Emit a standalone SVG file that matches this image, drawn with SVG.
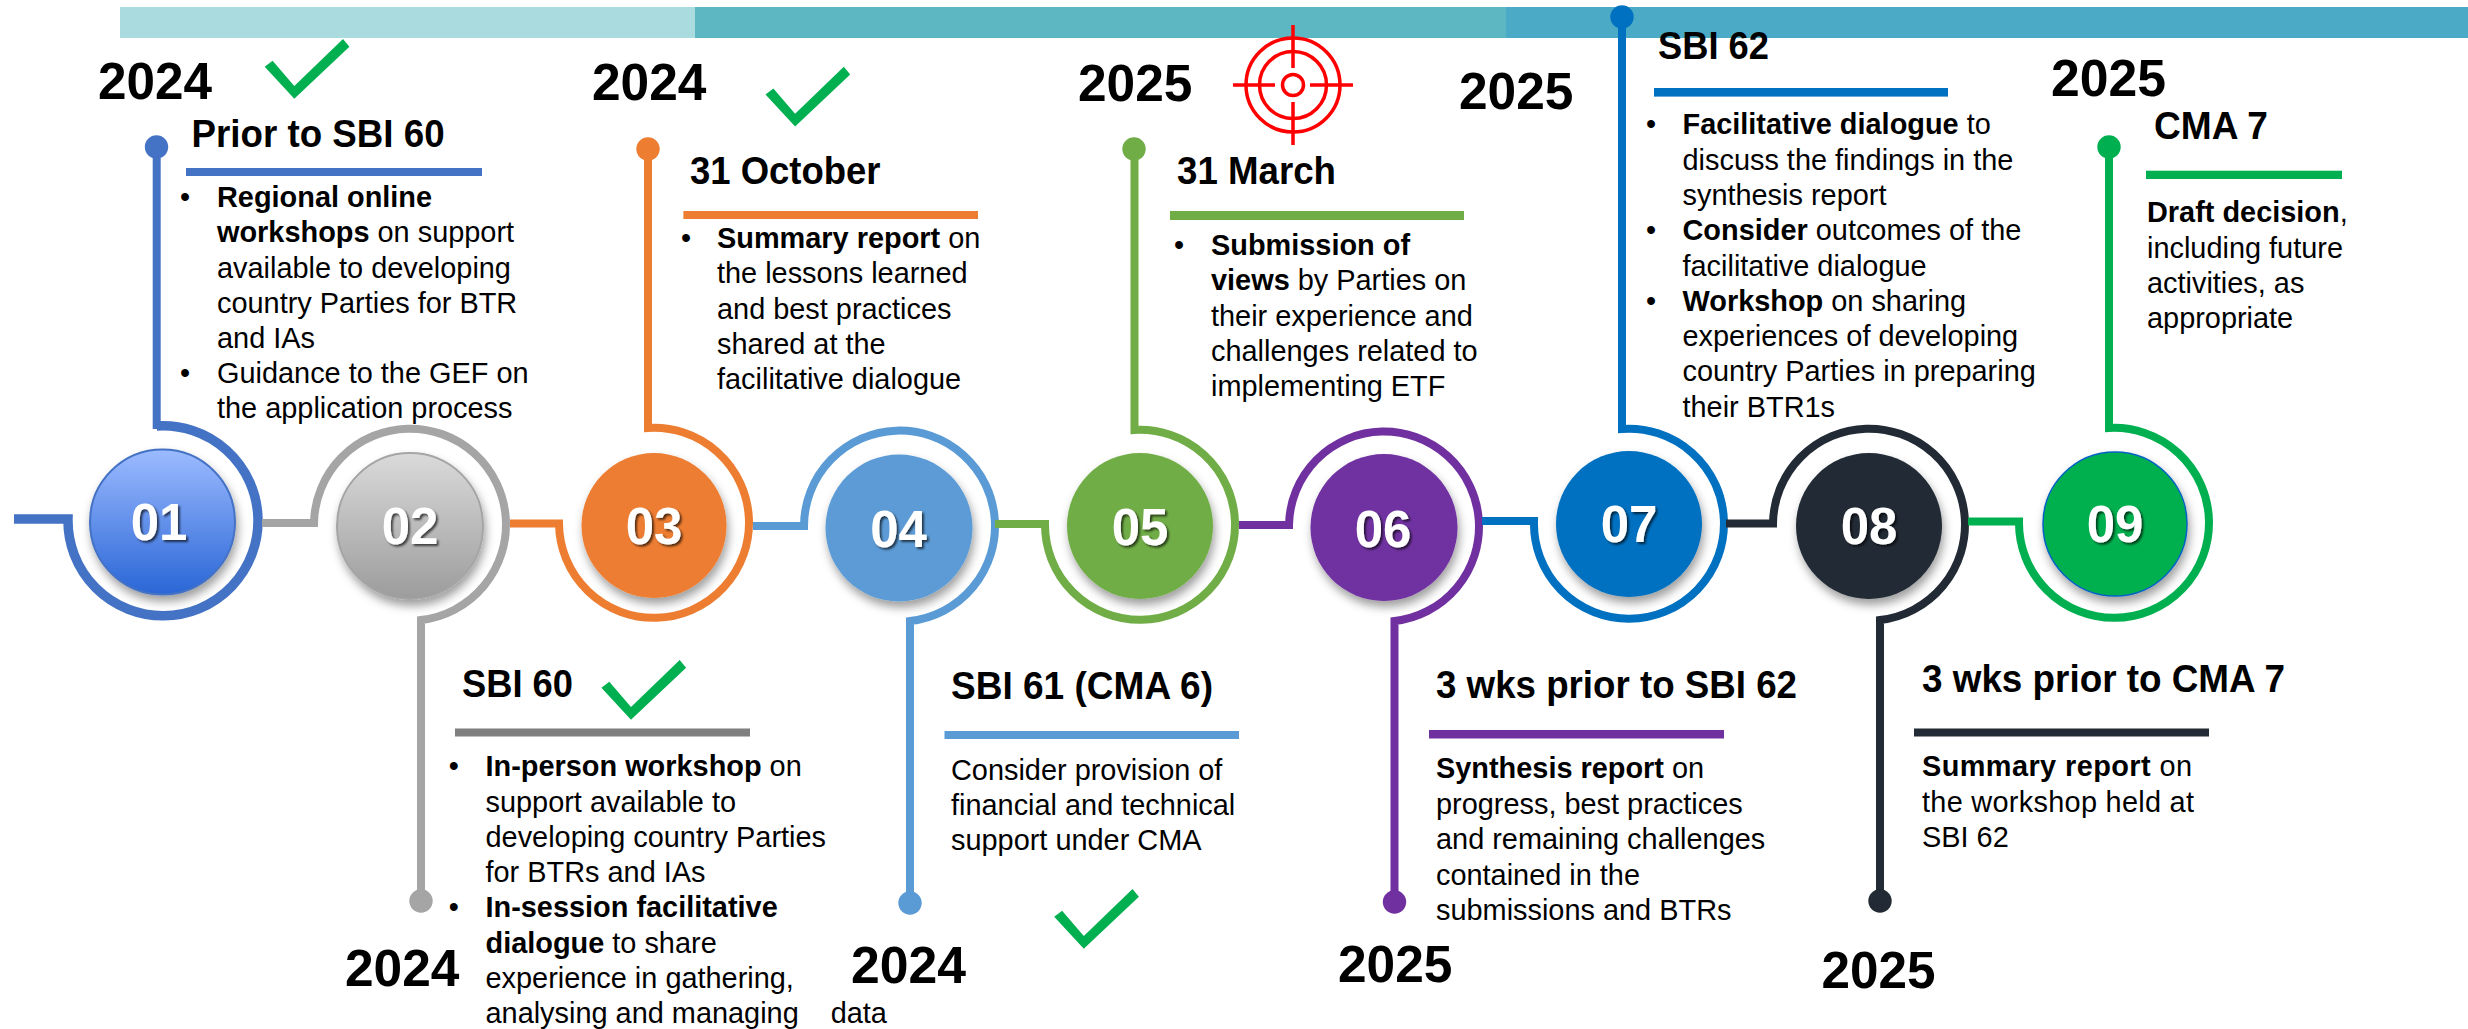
<svg xmlns="http://www.w3.org/2000/svg" width="2468" height="1029" viewBox="0 0 2468 1029">
<style>
text{font-family:"Liberation Sans",Arial,sans-serif;fill:#000}
.b{font-size:28.9px}
.b tspan,.bold{font-weight:700}
.h{font-weight:700;font-size:38px}
.y{font-weight:700;font-size:51px}
.n{font-weight:700;font-size:51px;fill:#fff;text-anchor:middle;filter:url(#ts)}
.c{filter:url(#ds)}
.l{fill:none;stroke-width:8;stroke-linejoin:miter}
.chk{fill:#00B050}
.t{fill:none;stroke:#FF0000;stroke-width:3.5}
</style>
<defs>
<linearGradient id="g1" x1="0" y1="0" x2="0" y2="1"><stop offset="0" stop-color="#9CBBFF"/><stop offset="1" stop-color="#2A66D6"/></linearGradient>
<linearGradient id="g2" x1="0" y1="0" x2="0" y2="1"><stop offset="0" stop-color="#DADADA"/><stop offset="1" stop-color="#9C9C9C"/></linearGradient>
<filter id="ds" x="-20%" y="-20%" width="140%" height="150%"><feDropShadow dx="2" dy="6" stdDeviation="5" flood-color="#000" flood-opacity=".38"/></filter>
<filter id="ts" x="-20%" y="-20%" width="140%" height="140%"><feDropShadow dx="2" dy="2" stdDeviation="1" flood-color="#000" flood-opacity=".65"/></filter>
<polygon id="check" points="264.7,66.7 272.6,60.7 294.3,86 343,39 349.4,46.7 294.3,98.7"/>
</defs>

<g id="timeline-bar">
<rect x="120" y="7" width="575" height="31" fill="#AADBDE"/>
<rect x="695" y="7" width="811" height="31" fill="#5DB7C3"/>
<rect x="1506" y="7" width="962" height="31" fill="#4BAAC5"/>
</g>

<g id="connectors">
<path class="l" stroke="#4472C4" stroke-width="9.5" style="stroke-width:9.5" d="M14 519H68A95 95 0 1 0 156.7 426"/>
<path class="l" stroke="#4472C4" d="M156.7 429V147"/>
<path class="l" stroke="#A5A5A5" d="M262 523H314A96 96 0 1 1 421 620V901"/>
<path class="l" stroke="#ED7D31" d="M510 523.5H559A95 95 0 1 0 648 428V149"/>
<path class="l" stroke="#5B9BD5" d="M753 526H804A95.5 95.5 0 1 1 910 621V903"/>
<path class="l" stroke="#70AD47" d="M995 524H1045A95 95 0 1 0 1134.5 430V149"/>
<path class="l" stroke="#7030A0" d="M1239 525H1289A95 95 0 1 1 1394.5 621V902"/>
<path class="l" stroke="#0070C0" d="M1482 521H1534A95 95 0 1 0 1622 429V17"/>
<path class="l" stroke="#222B35" d="M1726 523.5H1773A96 96 0 1 1 1880 620V901"/>
<path class="l" stroke="#00B050" d="M1968 521.5H2019A95 95 0 1 0 2109 428V147"/>
<circle cx="156.5" cy="147" r="11.7" fill="#4472C4"/>
<circle cx="421" cy="901" r="11.7" fill="#A5A5A5"/>
<circle cx="648" cy="149" r="11.7" fill="#ED7D31"/>
<circle cx="910" cy="903" r="11.7" fill="#5B9BD5"/>
<circle cx="1134" cy="149" r="11.7" fill="#70AD47"/>
<circle cx="1394.5" cy="902" r="11.7" fill="#7030A0"/>
<circle cx="1622" cy="17" r="11.7" fill="#0070C0"/>
<circle cx="1880" cy="901" r="11.7" fill="#222B35"/>
<circle cx="2109" cy="147" r="11.7" fill="#00B050"/>
</g>

<g id="node-01">
<circle class="c" cx="162.5" cy="522" r="72.5" fill="url(#g1)" stroke="#4472C4" stroke-width="2"/>
<text class="n" x="159" y="540">01</text>
<text class="y" x="98" y="99" textLength="114" lengthAdjust="spacingAndGlyphs">2024</text>
<use href="#check" class="chk"/>
<text class="h" x="191.6" y="146.7" textLength="253" lengthAdjust="spacingAndGlyphs">Prior to SBI 60</text>
<rect x="186" y="168" width="296" height="8" fill="#4472C4"/>
<text class="b" x="185" y="207" text-anchor="middle">•</text>
<text class="b" x="217" y="207"><tspan>Regional online</tspan></text>
<text class="b" x="217" y="242"><tspan>workshops</tspan> on support</text>
<text class="b" x="217" y="277.5">available to developing</text>
<text class="b" x="217" y="312.5">country Parties for BTR</text>
<text class="b" x="217" y="348">and IAs</text>
<text class="b" x="185" y="383" text-anchor="middle">•</text>
<text class="b" x="217" y="383">Guidance to the GEF on</text>
<text class="b" x="217" y="418">the application process</text>
</g>

<g id="node-02">
<circle class="c" cx="410" cy="526" r="73" fill="url(#g2)" stroke="#A5A5A5" stroke-width="2"/>
<text class="n" x="410" y="544">02</text>
<text class="y" x="345" y="986" textLength="114.5" lengthAdjust="spacingAndGlyphs">2024</text>
<use href="#check" class="chk" transform="translate(336.7 621)"/>
<text class="h" x="462" y="697" textLength="111" lengthAdjust="spacingAndGlyphs">SBI 60</text>
<rect x="455" y="728.5" width="295" height="8" fill="#7F7F7F"/>
<text class="b" x="453.7" y="776" text-anchor="middle">•</text>
<text class="b" x="485.5" y="776"><tspan>In-person workshop</tspan> on</text>
<text class="b" x="485.5" y="811.6">support available to</text>
<text class="b" x="485.5" y="846.6">developing country Parties</text>
<text class="b" x="485.5" y="882">for BTRs and IAs</text>
<text class="b" x="453.7" y="917" text-anchor="middle">•</text>
<text class="b" x="485.5" y="917"><tspan>In-session facilitative</tspan></text>
<text class="b" x="485.5" y="952.6"><tspan>dialogue</tspan> to share</text>
<text class="b" x="485.5" y="988">experience in gathering,</text>
<text class="b" x="485.5" y="1023">analysing and managing</text>
<text class="b" x="830.7" y="1023">data</text>
</g>

<g id="node-03">
<circle class="c" cx="654" cy="525.5" r="72.5" fill="#ED7D31"/>
<text class="n" x="654" y="544">03</text>
<text class="y" x="592" y="100" textLength="114.5" lengthAdjust="spacingAndGlyphs">2024</text>
<use href="#check" class="chk" transform="translate(500.8 27.7)"/>
<text class="h" x="690" y="183.5" textLength="190.5" lengthAdjust="spacingAndGlyphs">31 October</text>
<rect x="683.4" y="211" width="294.6" height="8" fill="#ED7D31"/>
<text class="b" x="686" y="248" text-anchor="middle">•</text>
<text class="b" x="717" y="248"><tspan>Summary report</tspan> on</text>
<text class="b" x="717" y="283">the lessons learned</text>
<text class="b" x="717" y="318.5">and best practices</text>
<text class="b" x="717" y="354">shared at the</text>
<text class="b" x="717" y="389">facilitative dialogue</text>
</g>

<g id="node-04">
<circle class="c" cx="899" cy="528" r="73.5" fill="#5B9BD5"/>
<text class="n" x="898.5" y="546.6">04</text>
<text class="y" x="851" y="983" textLength="115" lengthAdjust="spacingAndGlyphs">2024</text>
<use href="#check" class="chk" transform="translate(789.5 850)"/>
<text class="h" x="951" y="699" textLength="262" lengthAdjust="spacingAndGlyphs">SBI 61 (CMA 6)</text>
<rect x="944.5" y="731" width="294.5" height="8" fill="#5B9BD5"/>
<text class="b" x="951" y="779.5">Consider provision of</text>
<text class="b" x="951" y="814.5">financial and technical</text>
<text class="b" x="951" y="850">support under CMA</text>
</g>

<g id="node-05">
<circle class="c" cx="1140" cy="526" r="73" fill="#70AD47"/>
<text class="n" x="1140" y="544.6">05</text>
<text class="y" x="1078" y="101" textLength="114.5" lengthAdjust="spacingAndGlyphs">2025</text>
<g id="target">
<circle class="t" cx="1293" cy="85" r="47"/>
<circle class="t" cx="1293" cy="85" r="33.5"/>
<circle class="t" cx="1293" cy="85" r="10.5"/>
<path class="t" d="M1233 85H1275M1310 85H1353M1293 25V68M1293 102V145"/>
</g>
<text class="h" x="1177" y="184" textLength="159" lengthAdjust="spacingAndGlyphs">31 March</text>
<rect x="1170" y="211" width="294" height="9" fill="#70AD47"/>
<text class="b" x="1179" y="255" text-anchor="middle">•</text>
<text class="b" x="1211" y="255"><tspan>Submission of</tspan></text>
<text class="b" x="1211" y="290"><tspan>views</tspan> by Parties on</text>
<text class="b" x="1211" y="325.5">their experience and</text>
<text class="b" x="1211" y="361">challenges related to</text>
<text class="b" x="1211" y="396">implementing ETF</text>
</g>

<g id="node-06">
<circle class="c" cx="1384" cy="527.5" r="73.5" fill="#7030A0"/>
<text class="n" x="1383" y="546.6">06</text>
<text class="y" x="1338" y="982" textLength="114.5" lengthAdjust="spacingAndGlyphs">2025</text>
<text class="y" x="1459" y="109" textLength="114.5" lengthAdjust="spacingAndGlyphs">2025</text>
<text class="h" x="1436" y="698.4" textLength="361" lengthAdjust="spacingAndGlyphs">3 wks prior to SBI 62</text>
<rect x="1429" y="730" width="295" height="8.5" fill="#7030A0"/>
<text class="b" x="1436" y="778"><tspan>Synthesis report</tspan> on</text>
<text class="b" x="1436" y="813.7">progress, best practices</text>
<text class="b" x="1436" y="849">and remaining challenges</text>
<text class="b" x="1436" y="885">contained in the</text>
<text class="b" x="1436" y="920">submissions and BTRs</text>
</g>

<g id="node-07">
<circle class="c" cx="1629" cy="524" r="73" fill="#0070C0"/>
<text class="n" x="1629" y="541.8">07</text>
<text class="h" x="1658" y="59" textLength="111" lengthAdjust="spacingAndGlyphs">SBI 62</text>
<rect x="1654" y="88" width="294" height="8.6" fill="#0070C0"/>
<text class="b" x="1651" y="134.3" text-anchor="middle">•</text>
<text class="b" x="1682.5" y="134.3"><tspan>Facilitative dialogue</tspan> to</text>
<text class="b" x="1682.5" y="170">discuss the findings in the</text>
<text class="b" x="1682.5" y="205">synthesis report</text>
<text class="b" x="1651" y="240" text-anchor="middle">•</text>
<text class="b" x="1682.5" y="240"><tspan>Consider</tspan> outcomes of the</text>
<text class="b" x="1682.5" y="275.7">facilitative dialogue</text>
<text class="b" x="1651" y="310.7" text-anchor="middle">•</text>
<text class="b" x="1682.5" y="310.7"><tspan>Workshop</tspan> on sharing</text>
<text class="b" x="1682.5" y="346">experiences of developing</text>
<text class="b" x="1682.5" y="381">country Parties in preparing</text>
<text class="b" x="1682.5" y="416.5">their BTR1s</text>
</g>

<g id="node-08">
<circle class="c" cx="1869" cy="526" r="73" fill="#222B35"/>
<text class="n" x="1869" y="544">08</text>
<text class="y" x="1821.5" y="988" textLength="114" lengthAdjust="spacingAndGlyphs">2025</text>
<text class="h" x="1922" y="692" textLength="363" lengthAdjust="spacingAndGlyphs">3 wks prior to CMA 7</text>
<rect x="1914" y="728.5" width="295" height="8" fill="#222B35"/>
<text class="b" x="1922" y="776" textLength="270"><tspan>Summary report</tspan> on</text>
<text class="b" x="1922" y="811.6" textLength="272">the workshop held at</text>
<text class="b" x="1922" y="846.6">SBI 62</text>
</g>

<g id="node-09">
<circle class="c" cx="2115" cy="524" r="72" fill="#00B050" stroke="#0563C1" stroke-width="1.5"/>
<text class="n" x="2115" y="542">09</text>
<text class="y" x="2051" y="95.7" textLength="115" lengthAdjust="spacingAndGlyphs">2025</text>
<text class="h" x="2154" y="139" textLength="114" lengthAdjust="spacingAndGlyphs">CMA 7</text>
<rect x="2146" y="170.7" width="196" height="8.3" fill="#00B050"/>
<text class="b" x="2147" y="222"><tspan>Draft decision</tspan>,</text>
<text class="b" x="2147" y="257.5">including future</text>
<text class="b" x="2147" y="293">activities, as</text>
<text class="b" x="2147" y="328">appropriate</text>
</g>
</svg>
